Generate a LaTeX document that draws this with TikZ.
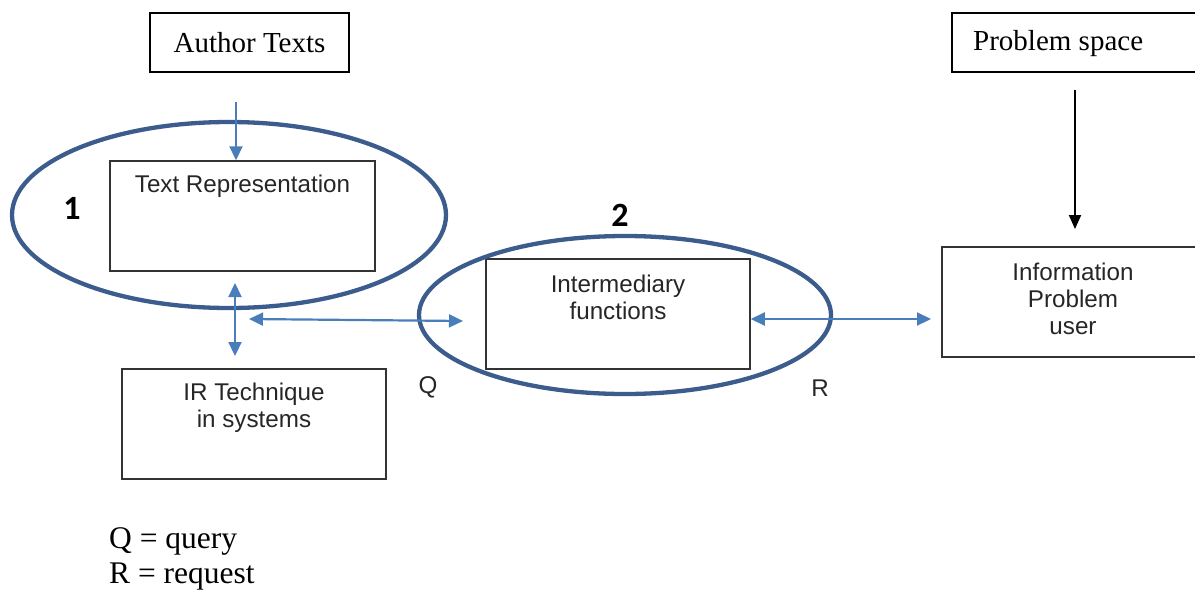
\documentclass[tikz,border=0pt]{standalone}
\usepackage{fontspec}
\setmainfont{Liberation Serif}
\newfontfamily\arialf{Liberation Sans}
\newfontfamily\calib{Carlito}
\usetikzlibrary{arrows.meta}
\definecolor{ellblue}{RGB}{59,92,140}
\definecolor{arrblue}{RGB}{74,126,187}
\tikzset{
  serifbox/.style={draw=black, line width=1.5pt, inner sep=0pt},
  sansbox/.style={draw=black!80, line width=1.5pt, inner sep=0pt, minimum width=264pt, minimum height=110pt},
  sanstext/.style={font=\arialf\fontsize{24.2}{27}\selectfont, text=black!85, align=center, inner sep=0pt},
  seriftext/.style={font=\fontsize{29}{34}\selectfont, inner sep=0pt},
  legtext/.style={font=\fontsize{31.5}{36}\selectfont, inner sep=0pt},
  numtext/.style={font=\calib\bfseries\fontsize{34}{40}\selectfont, inner sep=0pt},
  ring/.style={draw=ellblue, line width=4.3pt},
  blarrow/.style={draw=arrblue, line width=2.2pt, {Triangle[length=14pt,width=13pt]}-{Triangle[length=14pt,width=13pt]}},
  blarrowone/.style={draw=arrblue, line width=2.2pt, -{Triangle[length=14pt,width=13pt]}},
  bkarrow/.style={draw=black, line width=2pt, -{Triangle[length=14pt,width=12pt]}}
}
\begin{document}
\begin{tikzpicture}[x=1pt,y=-1pt]
\useasboundingbox (0,0) rectangle (1195,592);
% boxes
\node[serifbox, minimum width=199pt, minimum height=59pt, seriftext] (author) at (249.5,42.5) {Author Texts};
\node[serifbox, minimum width=250pt, minimum height=59pt] (pspace) at (1077,42.5) {};
\node[seriftext, anchor=west] (pstext) at (973,44) {Problem space};
\node[sansbox, minimum width=265pt] (trep) at (242.5,216) {};
\node[sanstext] (treptext) at (242.5,186) {Text Representation};
\node[sansbox] (ir) at (254,424) {};
\node[sanstext] (irtext) at (254,407.5) {IR Technique\\in systems};
\node[sansbox] (inter) at (618,314) {};
\node[sanstext] (intertext) at (618,297.5) {Intermediary\\functions};
\node[sansbox, minimum width=262pt] (info) at (1073,302) {};
\node[sanstext] (infotext) at (1073,299) {Information\\Problem\\user};
% ellipses
\draw[ring] (229,215) ellipse [x radius=217pt, y radius=93pt];
\draw[ring] (625,315) ellipse [x radius=206pt, y radius=79pt];
% numbers and labels
\node[numtext] (n1) at (72,208) {1};
\node[numtext] (n2) at (620,215) {2};
\node[sanstext] (q) at (428,387) {Q};
\node[sanstext] (r) at (820,388) {R};
\node[legtext, anchor=west] (legq) at (109,541) {Q = query};
\node[legtext, anchor=west] (legr) at (109,577) {R = request};
% connectors
\coordinate (a1) at (236,102);
\draw[blarrowone] (a1) -- (a1 |- trep.north);
\coordinate (v1) at (235,283);
\coordinate (v2) at (235,356);
\draw[blarrow] (v1) -- (v2);
\coordinate (h1) at (249,319);
\coordinate (h2) at (463,321);
\draw[blarrow] (h1) -- (h2);
\coordinate (h3) at (931,319);
\draw[blarrow] (inter.east |- h3) -- (h3);
\coordinate (b1) at (1075,90);
\coordinate (b2) at (1075,229);
\draw[bkarrow] (b1) -- (b2);
\end{tikzpicture}
\end{document}
